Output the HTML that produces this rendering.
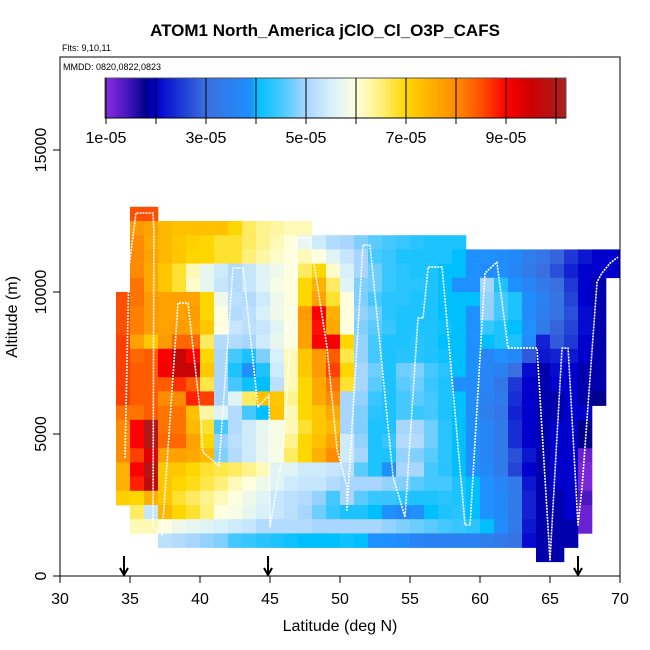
<!DOCTYPE html>
<html><head><meta charset="utf-8"><style>
html,body{margin:0;padding:0;background:#fff;}
svg{display:block;font-family:"Liberation Sans",sans-serif;}
</style></head><body>
<svg id="chart" width="650" height="650" viewBox="0 0 650 650" xmlns="http://www.w3.org/2000/svg">
<rect width="650" height="650" fill="#fff"/>
<text x="325" y="36" text-anchor="middle" font-size="17" font-weight="bold">ATOM1 North_America jClO_Cl_O3P_CAFS</text>
<text x="62" y="51" font-size="9">Flts: 9,10,11</text>
<g id="cells"></g>
<g id="track"></g>
<g id="legend"></g>
<g id="axes"></g>
<rect x="60" y="57" width="560" height="519" fill="none" stroke="#000" stroke-width="1"/>
<text x="63" y="70" font-size="9">MMDD: 0820,0822,0823</text>
<text x="340" y="631" text-anchor="middle" font-size="16">Latitude (deg N)</text>
<text transform="translate(17,317) rotate(-90)" text-anchor="middle" font-size="16">Altitude (m)</text>
</svg>
<script>
const latBins = [34,35,36,37,38,39,40,41,42,43,44,45,46,47,48,49,50,51,52,53,54,55,56,57,58,59,60,61,62,63,64,65,66,67,68,69];
const altBins = [12500,12000,11500,11000,10500,10000,9500,9000,8500,8000,7500,7000,6500,6000,5500,5000,4500,4000,3500,3000,2500,2000,1500,1000,500];
// values in units of 1e-05, rows follow altBins, columns follow latBins
const cellValues = [
[null,8.5,8.5,null,null,null,null,null,null,null,null,null,null,null,null,null,null,null,null,null,null,null,null,null,null,null,null,null,null,null,null,null,null,null,null,null],
[null,7.8,7.7,7.4,7.3,7.3,7.3,7.3,7.0,6.6,6.4,6.3,6.2,6.2,null,null,null,null,null,null,null,null,null,null,null,null,null,null,null,null,null,null,null,null,null,null],
[null,8.0,7.6,7.4,7.2,7.1,7.0,6.8,6.8,6.6,6.4,6.2,6.0,5.7,5.4,5.1,5.0,4.8,4.6,4.5,4.4,4.3,4.2,4.2,4.2,null,null,null,null,null,null,null,null,null,null,null],
[null,8.0,7.7,7.4,7.2,7.0,7.0,6.8,6.8,6.5,6.3,6.1,6.0,6.2,6.0,5.6,5.3,5.0,4.5,4.4,4.2,4.2,4.2,4.2,4.0,3.9,3.9,3.8,3.7,3.4,3.2,2.9,2.5,2.2,2.0,2.0],
[null,8.0,7.6,7.2,6.8,6.2,5.7,5.4,5.1,5.3,5.6,5.8,6.0,6.6,7.0,6.1,5.5,5.0,4.7,4.4,4.3,4.2,4.2,4.0,4.0,3.9,3.8,3.9,3.6,3.3,3.0,2.7,2.3,2.0,2.0,2.0],
[null,8.2,7.6,7.2,6.8,6.1,5.7,5.3,5.1,5.3,5.6,5.9,6.0,7.0,7.5,6.6,5.6,4.8,4.7,4.4,4.3,4.3,4.2,4.0,3.9,3.9,5.0,4.2,3.9,3.6,3.3,3.0,2.5,2.0,1.9,null],
[8.5,8.2,7.8,7.7,7.7,7.7,7.0,5.8,5.2,5.1,5.4,5.8,6.0,7.0,7.7,6.8,6.0,4.8,4.5,4.3,4.3,4.2,4.2,4.0,4.0,4.0,4.9,4.5,4.2,3.8,3.5,3.1,2.6,2.0,1.9,null],
[8.5,8.1,7.8,7.7,7.7,7.8,7.0,6.0,5.1,5.2,5.5,5.8,6.0,7.8,9.0,7.5,6.0,4.9,4.7,4.3,4.2,4.2,4.2,4.0,4.0,3.9,4.9,4.5,4.2,3.8,3.4,3.1,2.7,2.1,1.9,null],
[8.5,8.1,7.8,7.7,7.8,7.7,7.2,6.0,5.3,5.2,5.3,5.6,6.0,7.7,8.9,7.6,6.0,4.8,4.6,4.4,4.2,4.2,4.2,4.1,4.0,3.9,4.4,4.2,4.0,3.9,3.3,2.9,2.6,2.1,1.9,null],
[8.6,7.7,7.2,7.8,8.3,8.3,6.6,5.1,5.1,5.0,5.4,5.7,6.0,7.7,9.0,9.1,7.0,4.9,4.5,4.2,4.2,4.3,4.2,4.0,4.0,3.9,4.0,4.2,4.2,3.8,2.3,2.8,2.5,2.0,1.9,null],
[8.6,8.3,8.4,9.0,9.6,9.0,7.0,5.0,4.5,4.2,4.8,5.5,6.2,7.2,7.8,8.4,6.7,4.9,4.5,4.2,4.3,4.3,4.2,4.1,4.0,3.9,3.6,3.9,3.7,2.8,2.2,2.3,2.2,2.0,1.9,null],
[8.6,8.4,8.4,9.1,9.6,9.6,7.2,5.0,4.2,3.9,4.2,5.4,6.2,7.2,7.8,8.6,7.0,5.0,4.7,4.2,4.7,4.8,4.5,4.3,4.0,3.9,3.6,3.5,3.0,2.1,1.9,2.1,2.0,1.9,1.9,null],
[8.6,8.4,8.4,8.4,8.7,8.4,6.7,5.0,4.5,4.1,4.0,5.2,6.2,7.0,7.6,8.2,6.8,5.0,4.6,4.2,4.6,4.7,4.4,4.2,3.9,3.8,3.6,3.2,2.5,2.0,1.9,2.0,2.0,1.9,1.9,null],
[8.6,8.4,8.4,8.0,8.0,8.8,8.6,5.0,5.6,6.6,7.3,7.2,6.4,7.0,7.6,8.0,5.0,4.9,4.4,4.2,4.5,4.6,4.5,4.2,4.0,3.8,3.5,3.3,2.4,2.0,1.9,1.9,2.0,1.9,1.8,null],
[8.2,8.2,8.4,8.2,8.2,7.3,6.3,5.6,5.1,4.5,4.0,7.3,6.2,7.0,7.2,7.6,5.0,4.8,4.3,4.2,4.5,4.4,4.5,4.2,4.0,3.8,3.4,3.2,2.3,2.0,1.9,1.9,2.0,2.0,null,null],
[8.0,9.0,10.0,8.2,8.2,7.4,6.8,4.5,5.1,5.4,5.7,5.9,6.2,6.8,7.2,7.4,5.0,4.8,4.2,4.2,5.0,5.0,4.7,4.3,4.0,3.9,3.6,3.3,2.4,2.0,1.9,2.0,2.0,1.8,null,null],
[8.0,9.0,10.0,8.3,8.3,7.7,7.0,4.9,5.2,5.4,5.7,5.9,6.4,7.0,7.3,7.7,5.4,4.9,4.2,4.4,5.1,5.1,4.7,4.3,4.0,3.8,3.6,3.3,2.4,2.0,1.9,2.0,2.0,1.8,null,null],
[8.0,8.6,9.3,7.7,7.7,7.6,7.4,4.8,5.1,5.4,5.7,5.9,6.6,7.0,7.5,8.0,5.4,5.0,4.2,4.2,4.9,4.8,4.6,4.3,4.0,3.9,3.6,3.3,2.7,2.2,1.9,2.0,2.0,1.2,null,null],
[7.5,9.0,9.9,7.2,7.2,7.0,6.8,6.7,6.6,6.4,6.2,5.6,5.6,5.4,5.4,5.3,5.2,4.6,4.2,3.9,5.0,5.0,4.5,4.3,4.0,3.9,3.7,3.3,2.6,2.0,1.9,2.0,2.0,1.1,null,null],
[7.5,8.8,9.7,7.2,7.0,6.9,6.7,6.5,6.2,6.0,5.8,5.6,5.4,5.3,5.3,5.1,5.0,5.0,5.0,4.9,4.8,4.6,4.5,4.5,4.2,4.0,3.9,3.6,3.3,2.2,1.9,2.0,2.0,1.1,null,null],
[7.1,7.0,7.5,7.2,6.8,6.6,6.4,6.2,6.0,5.8,5.6,5.3,5.2,5.1,4.9,4.5,5.0,4.6,4.4,4.4,4.3,4.2,4.2,4.3,4.2,4.0,3.9,3.7,3.3,2.3,1.9,1.9,2.0,1.4,null,null],
[null,6.6,5.3,7.4,7.0,6.8,6.5,6.0,5.9,5.7,5.5,5.3,5.2,5.0,4.7,4.4,4.2,4.2,4.0,3.9,3.7,3.9,4.0,4.2,4.3,4.0,3.9,3.7,3.3,2.3,1.9,1.9,2.0,1.2,null,null],
[null,6.2,6.2,6.0,5.8,5.7,5.6,5.5,5.4,5.3,5.1,5.1,5.1,5.1,5.0,5.0,5.0,5.0,5.0,4.9,4.8,4.7,4.6,4.5,4.4,4.3,4.0,3.8,3.3,2.2,1.9,1.9,1.9,1.2,null,null],
[null,null,null,5.2,5.1,5.0,4.9,4.8,4.5,4.4,4.3,4.2,4.1,4.0,4.0,4.0,4.1,4.0,3.9,3.9,3.8,3.6,3.5,3.5,3.5,3.5,3.4,3.3,3.1,2.1,1.9,1.9,1.9,null,null,null],
[null,null,null,null,null,null,null,null,null,null,null,null,null,null,null,null,null,null,null,null,null,null,null,null,null,null,null,null,null,null,1.9,1.9,null,null,null,null]
];
const trackLat = [34.64,34.93,35.43,36.64,36.71,36.64,37.29,38.43,39.14,40.0,40.21,41.36,42.36,43.07,44.14,44.93,45.0,45.93,46.93,47.86,48.07,49.07,49.79,50.5,50.5,51.64,52.14,53.79,54.64,55.57,55.93,56.29,57.29,58.93,59.29,60.36,61.21,62.0,64.07,65.0,65.86,66.29,67.0,67.29,68.36,68.71,69.29,69.86];
const trackAlt = [4155,10880,12780,12780,12180,1725,1443,9610,9610,5843,4365,3872,10842,10842,5950,6371,1725,4330,11900,11900,11230,8060,4435,3133,2323,11650,11650,3485,2077,9080,9080,10877,10877,1795,1795,10666,11053,8026,8026,563,8026,8026,1795,3133,10350,10666,11018,11229];
const xTicks = [30,35,40,45,50,55,60,65,70];
const yTicks = [0,5000,10000,15000];
const legendTicks = [1,2,3,4,5,6,7,8,9,10];
const legendLabels = ["1e-05","3e-05","5e-05","7e-05","9e-05"];
const legendLabelValues = [1,3,5,7,9];
const arrowLats = [34.57,44.86,67.0];

const NS="http://www.w3.org/2000/svg";
const xS = lat => 60 + (lat-30)*14;
const yS = alt => 576 - alt*0.0284;
const lS = v => 106 + (v-1)*50;
const stops = [[1.0,"#8a2be2"],[1.5,"#3a12b8"],[1.8,"#00008b"],[2.0,"#0000cd"],[2.7,"#2a4fd8"],[3.0,"#3a6fe0"],[3.9,"#1e90ff"],[4.0,"#00bfff"],[4.5,"#45c8ff"],[5.0,"#a8d6ff"],[5.5,"#d8f0fa"],[6.0,"#ffffe0"],[6.5,"#fff07a"],[7.0,"#ffd700"],[7.5,"#ffb000"],[8.0,"#ff8c00"],[8.5,"#ff5000"],[9.0,"#ff0000"],[9.5,"#cc0000"],[10.0,"#b01818"],[10.4,"#a52a2a"]];
function hx(c){return [1,3,5].map(i=>parseInt(c.substr(i,2),16));}
function col(v){
  if(v<=stops[0][0]) return stops[0][1];
  for(let i=1;i<stops.length;i++){
    if(v<=stops[i][0]){
      const a=hx(stops[i-1][1]), b=hx(stops[i][1]);
      const t=(v-stops[i-1][0])/(stops[i][0]-stops[i-1][0]);
      return "rgb("+a.map((x,k)=>Math.round(x+(b[k]-x)*t)).join(",")+")";
    }
  }
  return stops[stops.length-1][1];
}
function mk(tag, attrs, parent){const e=document.createElementNS(NS,tag);for(const k in attrs)e.setAttribute(k,attrs[k]);parent.appendChild(e);return e;}

const cells=document.getElementById("cells");
altBins.forEach((alt,r)=>{
  latBins.forEach((lat,c)=>{
    const v=cellValues[r][c];
    if(v===null) return;
    const x0=xS(lat), x1=xS(lat+1), y0=yS(alt+500), y1=yS(alt);
    const e=mk("rect",{x:x0,y:y0,width:x1-x0+0.3,height:y1-y0+0.3,fill:col(v)},cells);
    
    
  });
});

const track=document.getElementById("track");
const pts=trackLat.map((l,i)=>xS(l).toFixed(1)+","+yS(trackAlt[i]).toFixed(1)).join(" ");
const pl=mk("polyline",{points:pts,fill:"none",stroke:"#fff","stroke-width":"1.6","stroke-dasharray":"2,1","stroke-linejoin":"round"},track);



const leg=document.getElementById("legend");
for(let v=1; v<10.2; v+=0.05){
  const e=mk("rect",{x:lS(v),y:78,width:2.8,height:40,fill:col(v+0.025)},leg);
  
  
}
const lb=mk("rect",{x:105,y:78,width:461,height:40,fill:"none",stroke:"#555","stroke-width":"1"},leg);


legendTicks.forEach(v=>{
  const l=mk("line",{x1:lS(v),x2:lS(v),y1:78,y2:124,stroke:"#000","stroke-width":"1"},leg);
  
  
});
mk("line",{x1:105,x2:566,y1:118,y2:118,stroke:"#000","stroke-width":"1"},leg);
legendLabels.forEach((s,i)=>{
  const t=mk("text",{x:lS(legendLabelValues[i]),y:143,"text-anchor":"middle","font-size":"16"},leg);
  t.textContent=s;
  
  
});

const axes=document.getElementById("axes");
xTicks.forEach(v=>{
  const l=mk("line",{x1:xS(v),x2:xS(v),y1:576,y2:583,stroke:"#000"},axes);
  
  
  const t=mk("text",{x:xS(v),y:604,"text-anchor":"middle","font-size":"16"},axes);
  t.textContent=v;
  
  
});
yTicks.forEach(v=>{
  const l=mk("line",{x1:53,x2:60,y1:yS(v),y2:yS(v),stroke:"#000"},axes);
  
  
  const t=mk("text",{"text-anchor":"middle","font-size":"16",transform:"translate(46,"+yS(v)+") rotate(-90)"},axes);
  t.textContent=v;
  
  
});
arrowLats.forEach(v=>{
  const x=xS(v);
  const p=mk("path",{d:"M"+x+",556 L"+x+",575 M"+(x-4)+",568 L"+x+",575 L"+(x+4)+",568",stroke:"#000","stroke-width":"2",fill:"none"},axes);
  
  
});
</script>
</body></html>
